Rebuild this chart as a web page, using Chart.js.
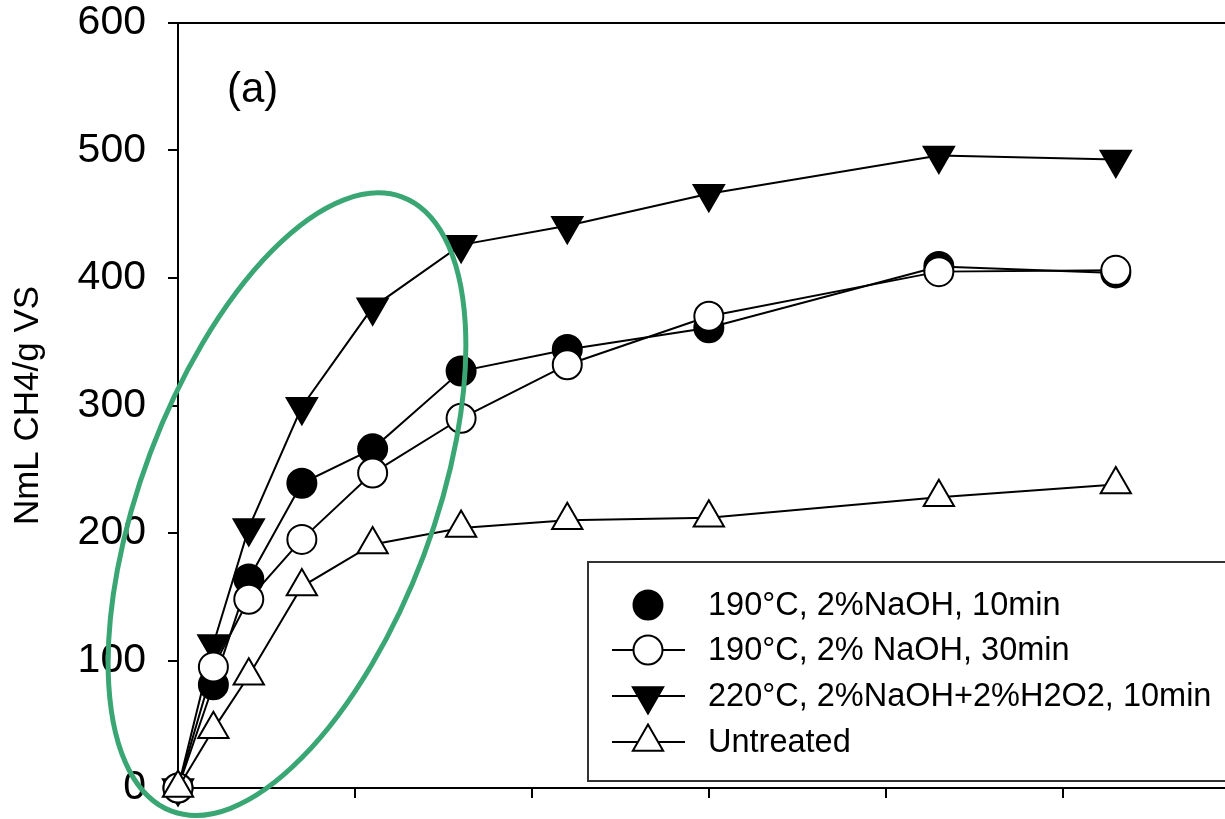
<!DOCTYPE html>
<html>
<head>
<meta charset="utf-8">
<script src="https://cdn.jsdelivr.net/npm/chart.js@4.4.0/dist/chart.umd.min.js"></script>
<style>
  html, body { margin: 0; padding: 0; background: #ffffff; overflow: hidden; }
  #wrap { width: 1225px; height: 819px; position: relative; overflow: hidden; }
</style>
</head>
<body>
<div id="wrap"><canvas id="c" width="1245" height="819"></canvas></div>
<script>
// ---- data ----
const days = [0, 2, 4, 7, 11, 16, 22, 30, 43, 53];
const naoh10min = [0, 81, 164, 239, 266, 327, 344, 361, 409, 404];
const naoh30min = [0, 95, 148, 195, 247, 290, 332, 370, 405, 406];
const naohH2o2 = [0, 113, 204, 299, 377, 426, 441, 466, 496, 493];
const untreated = [0, 46, 88, 158, 191, 204, 210, 212, 228, 238];
const seriesLabels = [
  '190°C, 2%NaOH, 10min',
  '190°C, 2% NaOH, 30min',
  '220°C, 2%NaOH+2%H2O2, 10min',
  'Untreated'
];
const yTickValues = [0, 100, 200, 300, 400, 500, 600];
const xTickValues = [0, 10, 20, 30, 40, 50];
const yTitle = 'NmL CH4/g VS';
const panelLabel = '(a)';
// highlight ellipse annotation (centre in data units)
const highlightCentre = { day: 6.16, value: 222.6 };

const FONT = "'Liberation Sans', Arial, Helvetica, sans-serif";

function pts(arr) { return days.map((d, i) => ({ x: d, y: arr[i] })); }

const styles = [
  { style: 'circle', rot: 0, r: 14.5, fill: '#000000', legendLine: false },
  { style: 'circle', rot: 0, r: 14.5, fill: '#ffffff', legendLine: true },
  { style: 'triangle', rot: 180, r: 17.5, fill: '#000000', legendLine: true },
  { style: 'triangle', rot: 0, r: 17.5, fill: '#ffffff', legendLine: true }
];
const seriesData = [naoh10min, naoh30min, naohH2o2, untreated];
const drawOrder = [3, 1, 2, 0]; // lower = on top

const datasets = seriesData.map((arr, i) => ({
  label: seriesLabels[i],
  data: pts(arr),
  borderColor: '#000000',
  borderWidth: 2,
  tension: 0,
  fill: false,
  clip: false,
  order: drawOrder[i],
  pointStyle: styles[i].style,
  pointRotation: styles[i].rot,
  pointRadius: styles[i].r,
  pointHoverRadius: styles[i].r,
  pointBackgroundColor: styles[i].fill,
  pointBorderColor: '#000000',
  pointBorderWidth: 2
}));

const framePlugin = {
  id: 'frame',
  beforeDatasetsDraw(chart) {
    const { ctx, chartArea } = chart;
    ctx.save();
    ctx.strokeStyle = '#000';
    ctx.lineWidth = 2;
    ctx.beginPath();
    ctx.moveTo(chartArea.left - 10, chartArea.top);
    ctx.lineTo(chart.width + 5, chartArea.top);
    ctx.stroke();
    // panel label
    ctx.fillStyle = '#000';
    ctx.font = '42px ' + FONT;
    ctx.textAlign = 'left';
    ctx.textBaseline = 'alphabetic';
    ctx.fillText(panelLabel, chartArea.left + 49, chartArea.top + 79);
    ctx.restore();
  }
};

const legendPlugin = {
  id: 'boxLegend',
  afterDatasetsDraw(chart) {
    const { ctx } = chart;
    const boxL = 588, boxT = 562, boxB = 781;
    ctx.save();
    ctx.fillStyle = '#ffffff';
    ctx.fillRect(boxL, boxT, chart.width - boxL + 10, boxB - boxT);
    ctx.strokeStyle = '#333333';
    ctx.lineWidth = 2;
    ctx.strokeRect(boxL, boxT, chart.width - boxL + 10, boxB - boxT);
    const rowY = [605, 650, 696, 742];
    const markX = 648, lineL = 612, lineR = 685, textX = 708;
    chart.data.datasets.forEach((ds, i) => {
      const y = rowY[i];
      if (styles[i].legendLine) {
        ctx.strokeStyle = '#000';
        ctx.lineWidth = 2;
        ctx.beginPath();
        ctx.moveTo(lineL, y);
        ctx.lineTo(lineR, y);
        ctx.stroke();
      }
      ctx.fillStyle = ds.pointBackgroundColor;
      ctx.strokeStyle = '#000';
      ctx.lineWidth = 2;
      Chart.helpers.drawPoint(ctx, {
        pointStyle: ds.pointStyle,
        rotation: ds.pointRotation,
        radius: ds.pointRadius,
        borderWidth: 2
      }, markX, y);
      ctx.fillStyle = '#000';
      ctx.font = '32.5px ' + FONT;
      ctx.textAlign = 'left';
      ctx.textBaseline = 'middle';
      ctx.fillText(ds.label, textX, y + 1);
    });
    ctx.restore();
  }
};

const ellipsePlugin = {
  id: 'highlight',
  afterDraw(chart) {
    const { ctx } = chart;
    const cx = chart.scales.x.getPixelForValue(highlightCentre.day);
    const cy = chart.scales.y.getPixelForValue(highlightCentre.value);
    ctx.save();
    ctx.strokeStyle = '#3aa673';
    ctx.lineWidth = 5;
    ctx.beginPath();
    ctx.ellipse(cx, cy, 328, 146, -69.4 * Math.PI / 180, 0, Math.PI * 2);
    ctx.stroke();
    ctx.restore();
  }
};

new Chart(document.getElementById('c'), {
  type: 'line',
  data: { datasets },
  options: {
    responsive: false,
    animation: false,
    events: [],
    layout: { padding: { top: 23, bottom: 21, left: 0, right: 0 } },
    plugins: { legend: { display: false }, tooltip: { enabled: false }, title: { display: false } },
    scales: {
      x: {
        type: 'linear',
        min: 0,
        max: 59.2,
        afterBuildTicks(scale) { scale.ticks = xTickValues.map(v => ({ value: v })); },
        ticks: { display: false },
        grid: { drawOnChartArea: false, drawTicks: true, tickLength: 10, tickWidth: 2, tickColor: '#000', color: '#000', lineWidth: 2 },
        border: { display: true, color: '#000', width: 2 }
      },
      y: {
        type: 'linear',
        min: 0,
        max: 600,
        afterBuildTicks(scale) { scale.ticks = yTickValues.map(v => ({ value: v })); },
        afterFit(scale) { scale.width = 178; scale.paddingTop = 0; scale.paddingBottom = 0; },
        ticks: { color: '#000', padding: 22, font: { family: FONT, size: 41, lineHeight: 1 } },
        grid: { drawOnChartArea: false, drawTicks: true, tickLength: 10, tickWidth: 2, tickColor: '#000', color: '#000', lineWidth: 2 },
        border: { display: true, color: '#000', width: 2 },
        title: { display: true, text: yTitle, color: '#000', padding: { top: 7, bottom: 0 }, font: { family: FONT, size: 35, lineHeight: 1.2 } }
      }
    }
  },
  plugins: [framePlugin, legendPlugin, ellipsePlugin]
});
</script>
</body>
</html>
